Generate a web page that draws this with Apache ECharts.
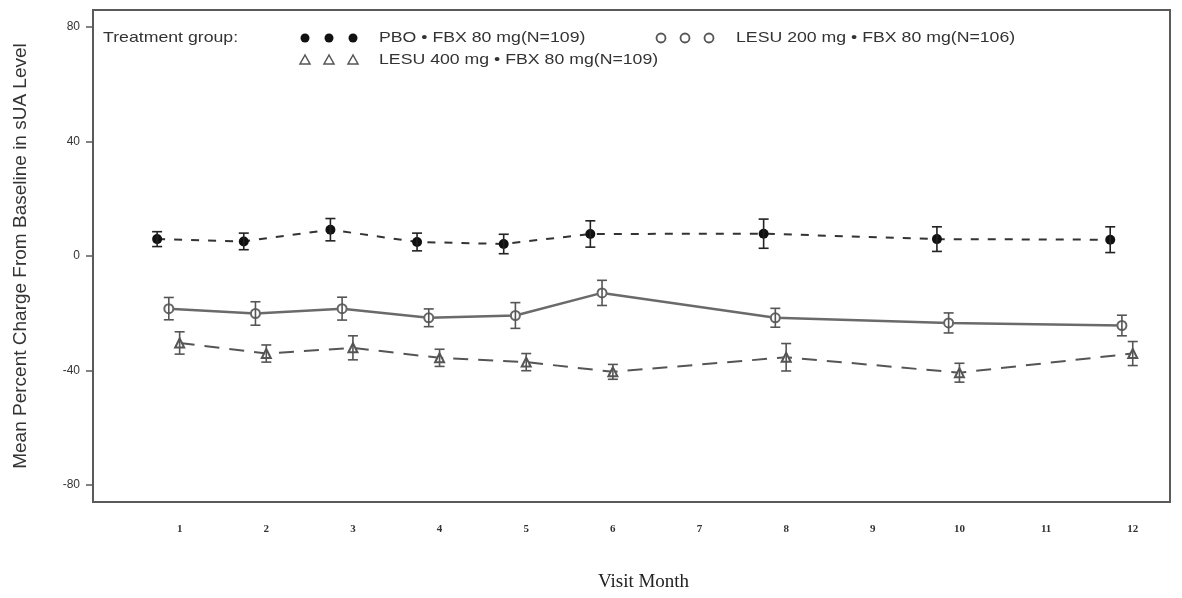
<!DOCTYPE html>
<html>
<head>
<meta charset="UTF-8">
<title>Mean Percent Change in sUA</title>
<script src="https://cdn.jsdelivr.net/npm/echarts@6/dist/echarts.min.js"></script>
<style>
  html, body { margin: 0; padding: 0; background: #fff; }
  #chart { width: 1182px; height: 598px; }
</style>
</head>
<body>
<div id="chart"></div>
<script>
// visits and tick labels
const months = [1, 2, 3, 4, 5, 6, 8, 10, 12];
const monthTicks = [1, 2, 3, 4, 5, 6, 7, 8, 9, 10, 11, 12];
const yTicks = [-80, -40, 0, 40, 80];

// PBO + FBX 80 mg (N=109)
const pboMean = [5.9, 5.1, 9.2, 4.9, 4.2, 7.7, 7.8, 5.9, 5.7];
const pboErr  = [2.6, 2.9, 3.9, 3.1, 3.4, 4.6, 5.1, 4.3, 4.5];
// LESU 200 mg + FBX 80 mg (N=106)
const l200Mean = [-18.4, -20.1, -18.4, -21.6, -20.8, -12.9, -21.6, -23.4, -24.3];
const l200Err  = [3.9, 4.1, 4.0, 3.1, 4.5, 4.4, 3.3, 3.5, 3.6];
// LESU 400 mg + FBX 80 mg (N=109)
const l400Mean = [-30.4, -34.1, -32.1, -35.6, -37.1, -40.5, -35.4, -40.8, -34.1];
const l400Err  = [3.9, 3.0, 4.2, 3.0, 3.0, 2.6, 4.8, 3.3, 4.2];

const groupNames = [
  'PBO • FBX 80 mg(N=109)',
  'LESU 200 mg • FBX 80 mg(N=106)',
  'LESU 400 mg • FBX 80 mg(N=109)'
];

// small horizontal dodge so the groups don't overlap
const dodge = [-0.26, -0.125, 0];

function linePoints(mean, shift) {
  return months.map((m, i) => [m + shift, mean[i]]);
}
function barPoints(mean, err, shift) {
  return months.map((m, i) => [m + shift, mean[i] - err[i], mean[i] + err[i]]);
}

function errRender(params, api) {
  const x = api.value(0);
  const lo = api.coord([x, api.value(1)]);
  const hi = api.coord([x, api.value(2)]);
  const w = 5;
  const style = { stroke: api.visual('color'), lineWidth: 1.6 };
  return {
    type: 'group',
    children: [
      { type: 'line', shape: { x1: lo[0], y1: lo[1], x2: hi[0], y2: hi[1] }, style: style },
      { type: 'line', shape: { x1: lo[0] - w, y1: lo[1], x2: lo[0] + w, y2: lo[1] }, style: style },
      { type: 'line', shape: { x1: hi[0] - w, y1: hi[1], x2: hi[0] + w, y2: hi[1] }, style: style }
    ]
  };
}

// legend is drawn by hand: three repeated symbols per group, like the original
const legendFont = '15px "Liberation Sans", Arial, sans-serif';
const stretch = 1.18;

function legendText(txt, x, y) {
  return { type: 'text', x: x, y: y, scaleX: stretch,
    style: { text: txt, font: legendFont, fill: '#333', verticalAlign: 'middle' } };
}

function dots(xs, y, kind, color) {
  return xs.map(x => {
    if (kind === 'tri') {
      return { type: 'polygon', shape: { points: [[x, y - 5], [x - 5, y + 4], [x + 5, y + 4]] },
        style: { fill: '#fff', stroke: color, lineWidth: 1.5 } };
    }
    return { type: 'circle', shape: { cx: x, cy: y, r: 4.5 },
      style: kind === 'fill' ? { fill: '#111' } : { fill: '#fff', stroke: color, lineWidth: 1.8 } };
  });
}

const chart = echarts.init(document.getElementById('chart'), null, { renderer: 'canvas' });

chart.setOption({
  animation: false,
  backgroundColor: '#fff',
  grid: {
    left: 93, right: 12, top: 10, bottom: 96,
    show: true, borderColor: '#5a5a5a', borderWidth: 2, backgroundColor: '#fff'
  },
  xAxis: {
    type: 'value', min: 0, max: 12.43,
    name: 'Visit Month', nameLocation: 'middle', nameGap: 71,
    nameTextStyle: {
      fontFamily: '"Liberation Serif", "Times New Roman", serif', fontSize: 19, color: '#222',
      padding: [0, 0, 0, 24]
    },
    axisLine: { show: false },
    axisTick: { show: false },
    splitLine: { show: false },
    axisLabel: {
      customValues: monthTicks, margin: 22,
      fontFamily: '"Liberation Serif", "Times New Roman", serif', fontSize: 11, fontWeight: 'bold', color: '#333'
    }
  },
  yAxis: {
    type: 'value', min: -86, max: 86,
    name: 'Mean Percent Charge From Baseline in sUA Level', nameLocation: 'middle', nameGap: 63,
    nameTextStyle: { fontFamily: '"Liberation Sans", Arial, sans-serif', fontSize: 19, color: '#333' },
    axisLine: { show: true, lineStyle: { color: '#5a5a5a', width: 2 } },
    axisTick: { show: true, customValues: yTicks, length: 7, lineStyle: { color: '#5a5a5a', width: 1.5 } },
    splitLine: { show: false },
    axisLabel: {
      customValues: yTicks, margin: 13,
      fontFamily: '"Liberation Sans", Arial, sans-serif', fontSize: 12, color: '#333'
    }
  },
  graphic: [
    legendText('Treatment group:', 103, 38),
    ...dots([305, 329, 353], 38, 'fill', '#111'),
    legendText(groupNames[0], 379, 38),
    ...dots([661, 685, 709], 38, 'empty', '#555'),
    legendText(groupNames[1], 736, 38),
    ...dots([305, 329, 353], 60, 'tri', '#555'),
    legendText(groupNames[2], 379, 60)
  ],
  series: [
    {
      name: groupNames[0], type: 'line', data: linePoints(pboMean, dodge[0]),
      symbol: 'circle', symbolSize: 10, z: 3,
      itemStyle: { color: '#111' },
      lineStyle: { color: '#333', width: 2, type: [8, 9] }
    },
    {
      name: groupNames[1], type: 'line', data: linePoints(l200Mean, dodge[1]),
      symbol: 'emptyCircle', symbolSize: 9, z: 3,
      itemStyle: { color: '#666', borderWidth: 2 },
      lineStyle: { color: '#6a6a6a', width: 2.5, type: 'solid' }
    },
    {
      name: groupNames[2], type: 'line', data: linePoints(l400Mean, dodge[2]),
      symbol: 'emptyTriangle', symbolSize: 9, z: 3,
      itemStyle: { color: '#555', borderWidth: 2 },
      lineStyle: { color: '#555', width: 2, type: [15, 10] }
    },
    { type: 'custom', renderItem: errRender, data: barPoints(pboMean, pboErr, dodge[0]),
      itemStyle: { color: '#222' }, z: 4, encode: { x: 0, y: [1, 2] } },
    { type: 'custom', renderItem: errRender, data: barPoints(l200Mean, l200Err, dodge[1]),
      itemStyle: { color: '#555' }, z: 4, encode: { x: 0, y: [1, 2] } },
    { type: 'custom', renderItem: errRender, data: barPoints(l400Mean, l400Err, dodge[2]),
      itemStyle: { color: '#555' }, z: 4, encode: { x: 0, y: [1, 2] } }
  ]
});
</script>
</body>
</html>
